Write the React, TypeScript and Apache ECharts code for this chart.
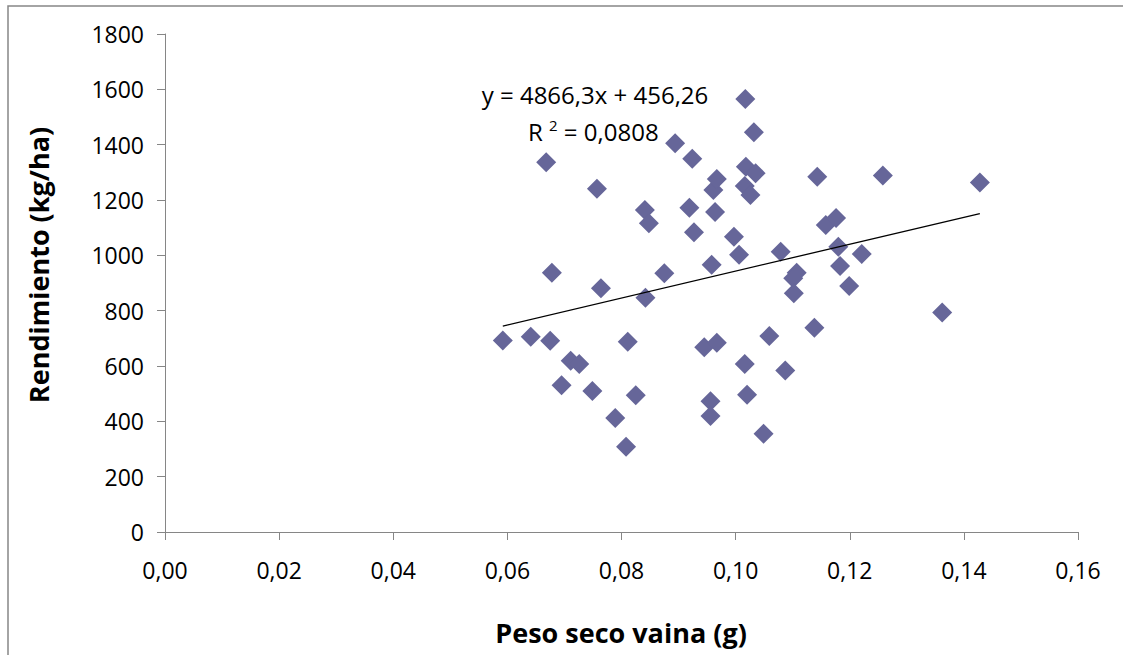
import React, { useEffect, useRef } from "react";
import * as echarts from "echarts";

// Peso seco vaina (g)
const pesoSeco = [
  0.0592, 0.0641, 0.0675, 0.0678, 0.0668, 0.0711, 0.0726, 0.0695, 0.0749, 0.0757,
  0.0764, 0.0789, 0.0808, 0.0811, 0.0825, 0.0842, 0.0841, 0.0848, 0.0875, 0.0894,
  0.0924, 0.0919, 0.0927, 0.0945, 0.0967, 0.0958, 0.0961, 0.0967, 0.0964, 0.0956,
  0.0956, 0.0997, 0.1006, 0.1017, 0.1032, 0.1018, 0.1035, 0.1016, 0.1026, 0.1016,
  0.1020, 0.1049, 0.1059, 0.1079, 0.1087, 0.1107, 0.1101, 0.1102, 0.1138, 0.1143,
  0.1158, 0.1176, 0.1180, 0.1183, 0.1199, 0.1221, 0.1258, 0.1362, 0.1428,
];

// Rendimiento (kg/ha)
const rendimiento = [
  692, 706, 691, 937, 1336, 619, 607, 530, 510, 1241,
  881, 412, 308, 688, 494, 847, 1164, 1116, 935, 1405,
  1349, 1172, 1083, 668, 684, 966, 1236, 1276, 1157, 473,
  419, 1067, 1002, 1565, 1445, 1320, 1297, 1251, 1218, 607,
  496, 355, 708, 1013, 584, 937, 917, 863, 738, 1284,
  1110, 1135, 1031, 961, 889, 1005, 1289, 793, 1263,
];

const trendSlope = 4866.3;
const trendIntercept = 456.26;
const equationLabel = "y = 4866,3x + 456,26";
const r2Label = "0,0808";
const xTitle = "Peso seco vaina (g)";
const yTitle = "Rendimiento (kg/ha)";

const FONT = "'Open Sans', 'Liberation Sans', sans-serif";

export default function App() {
  const ref = useRef<HTMLDivElement>(null);

  useEffect(() => {
    const chart = echarts.init(ref.current!, null, { renderer: "svg" });
    const points = pesoSeco.map((x, i) => [x, rendimiento[i]]);
    const xmin = Math.min(...pesoSeco);
    const xmax = Math.max(...pesoSeco);
    const trend = [
      [xmin, trendSlope * xmin + trendIntercept],
      [xmax, trendSlope * xmax + trendIntercept],
    ];

    chart.setOption({
      animation: false,
      backgroundColor: "#ffffff",
      grid: { left: 165, top: 34, width: 913, height: 498 },
      xAxis: {
        type: "value",
        min: 0,
        max: 0.16,
        interval: 0.02,
        axisLine: { show: true, onZero: false, lineStyle: { color: "#868686", width: 1 } },
        axisTick: { show: true, length: 8, lineStyle: { color: "#868686" } },
        splitLine: { show: false },
        axisLabel: {
          formatter: (v: number) => v.toFixed(2).replace(".", ","),
          color: "#000",
          fontFamily: FONT,
          fontSize: 23,
          margin: 26,
        },
      },
      yAxis: {
        type: "value",
        min: 0,
        max: 1800,
        interval: 200,
        axisLine: { show: true, onZero: false, lineStyle: { color: "#868686", width: 1 } },
        axisTick: { show: true, length: 8, lineStyle: { color: "#868686" } },
        splitLine: { show: false },
        axisLabel: {
          formatter: (v: number) => String(Math.round(v)),
          color: "#000",
          fontFamily: FONT,
          fontSize: 23,
          margin: 21,
        },
      },
      series: [
        {
          type: "scatter",
          data: points,
          symbol: "diamond",
          symbolSize: 20,
          itemStyle: { color: "#666699", opacity: 1 },
          z: 2,
        },
        {
          type: "line",
          data: trend,
          symbol: "none",
          showSymbol: false,
          lineStyle: { color: "#000", width: 1.3 },
          z: 3,
        },
      ],
      graphic: [
        {
          type: "polyline",
          shape: { points: [[8, 700], [8, 6], [1200, 6]] },
          style: { fill: "none", stroke: "#868686", lineWidth: 1.5 },
          silent: true,
        },
        {
          type: "text",
          x: 38,
          y: 265,
          rotation: Math.PI / 2,
          style: {
            text: yTitle,
            fontFamily: FONT,
            fontSize: 27,
            fontWeight: "bold",
            fill: "#000",
            align: "center",
            verticalAlign: "middle",
          },
        },
        {
          type: "text",
          x: 621,
          y: 632,
          style: {
            text: xTitle,
            fontFamily: FONT,
            fontSize: 27,
            fontWeight: "bold",
            fill: "#000",
            align: "center",
            verticalAlign: "middle",
          },
        },
        {
          type: "text",
          x: 595,
          y: 94,
          style: {
            text: equationLabel,
            fontFamily: FONT,
            fontSize: 24,
            fill: "#000",
            align: "center",
            verticalAlign: "middle",
          },
        },
        {
          type: "text",
          x: 528,
          y: 131,
          style: {
            text: "{r|R }{s|2}{r| = " + r2Label + "}",
            fill: "#000",
            align: "left",
            verticalAlign: "middle",
            rich: {
              r: { fontFamily: FONT, fontSize: 24, fill: "#000", lineHeight: 28 },
              s: { fontFamily: FONT, fontSize: 15, fill: "#000", verticalAlign: "top", lineHeight: 15 },
            },
          },
        },
      ],
    });

    return () => chart.dispose();
  }, []);

  return (
    <div
      ref={ref}
      style={{ position: "absolute", left: 0, top: 0, width: 1123, height: 655 }}
    />
  );
}
